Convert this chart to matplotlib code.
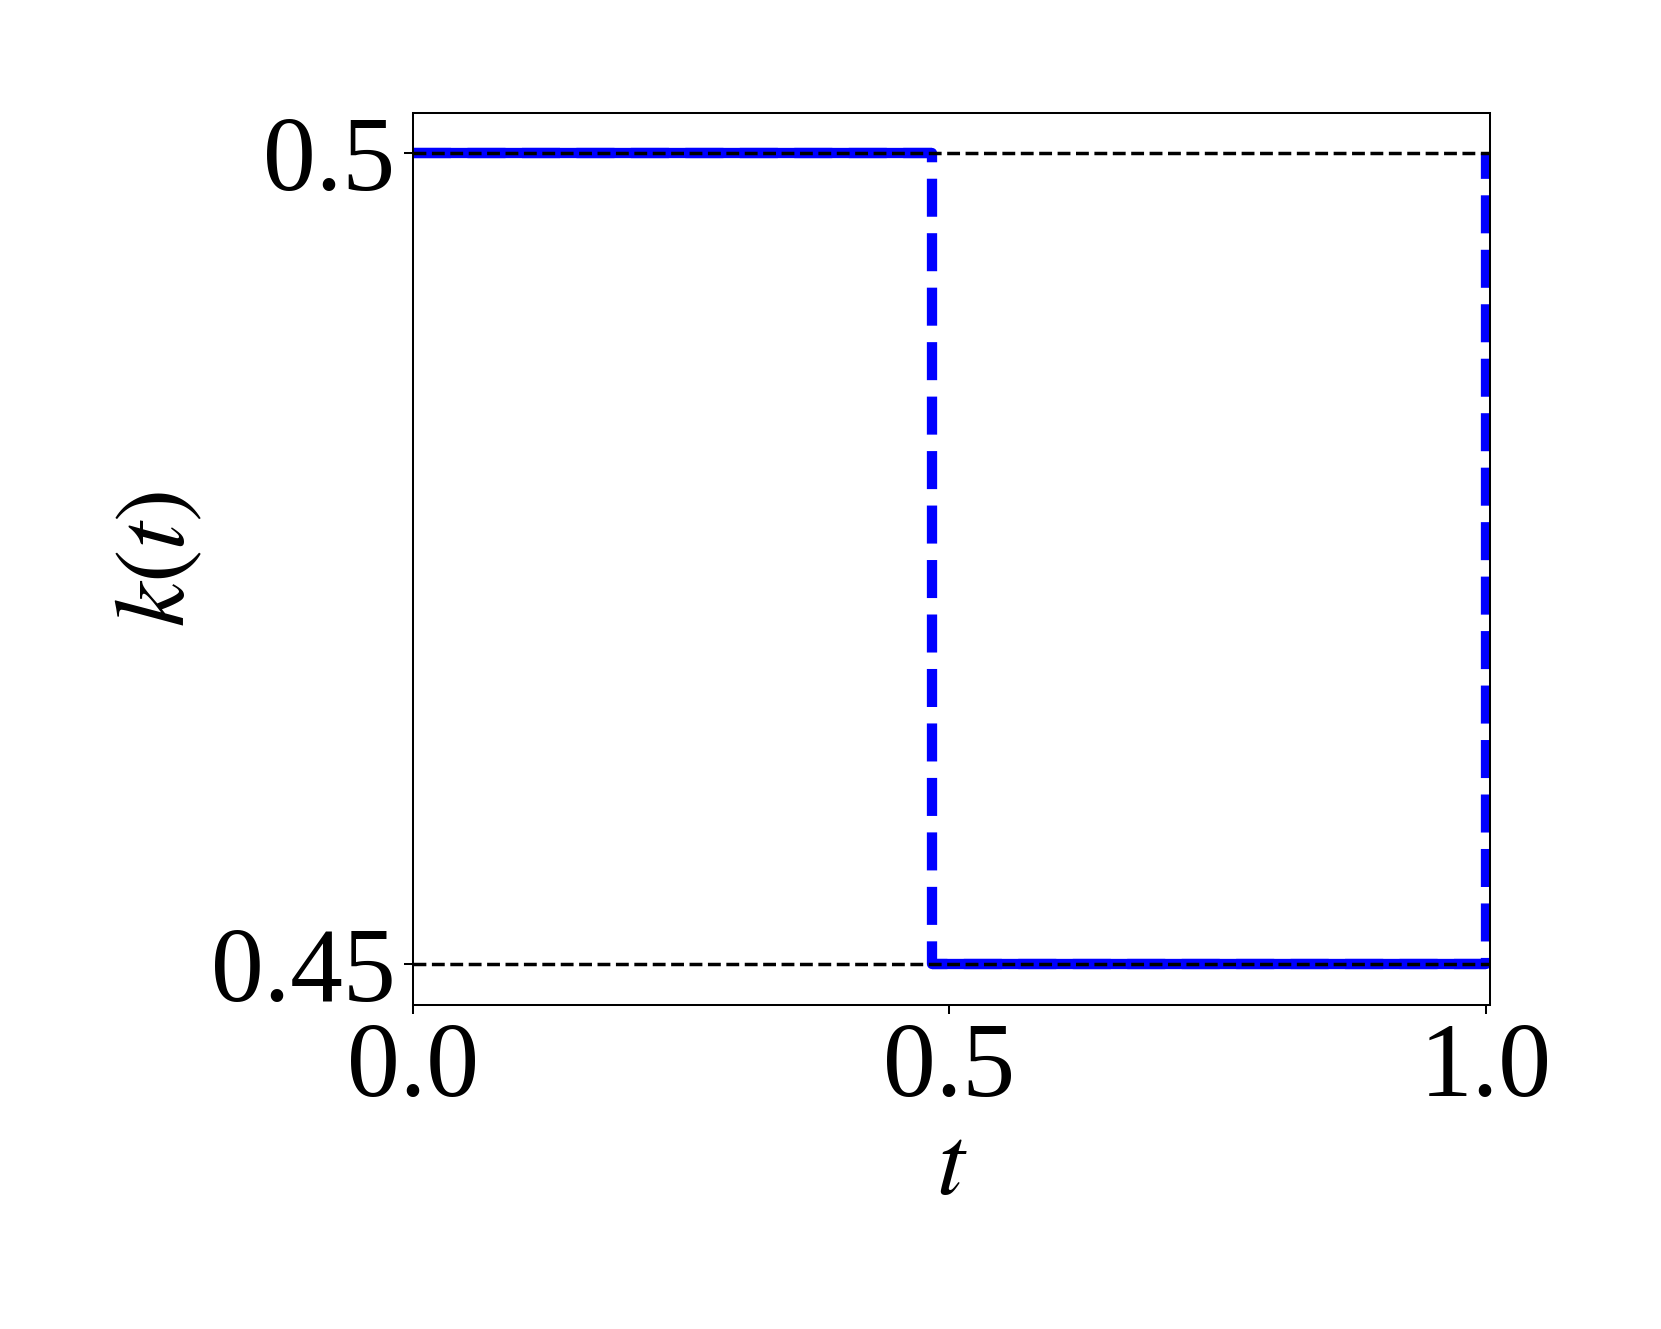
import matplotlib
matplotlib.use('Agg')
import matplotlib.pyplot as plt

# switching times and the level of k(t) that starts at each one
t_switch = [0.0, 0.484, 1.0]
k_level = [0.5, 0.45, 0.5]

# reference levels (black dashed)
k_ref = [0.5, 0.45]

x_ticks = [0.0, 0.5, 1.0]
y_ticks = [0.45, 0.5]

plt.rcParams['font.family'] = ['Liberation Serif', 'DejaVu Serif']
plt.rcParams['mathtext.fontset'] = 'stix'
plt.rcParams['font.size'] = 76

fig = plt.figure(figsize=(16.61, 13.29), dpi=100)
ax = fig.add_axes([0.2486, 0.2438, 0.6484, 0.6714])

# solid blue on the constant parts, dashed blue over the whole step path
ax.hlines(k_level[:-1], t_switch[:-1], t_switch[1:], color='blue',
          linewidth=7.4, zorder=2)
ax.plot(t_switch, k_level, drawstyle='steps-post', color='blue',
        linestyle='--', linewidth=7.4, zorder=2)
for k in k_ref:
    ax.axhline(k, color='black', linestyle='--', linewidth=2.5, zorder=3)

ax.set_xlim(0.0, 1.004)
ax.set_ylim(0.4475, 0.5025)
ax.set_xticks(x_ticks)
ax.set_xticklabels(['0.0', '0.5', '1.0'])
ax.set_yticks(y_ticks)
ax.set_yticklabels(['0.45', '0.5'])

for s in ax.spines.values():
    s.set_linewidth(1.45)
ax.tick_params(length=6.3, width=1.45, pad=6.3)

ax.set_xlabel('$t$', fontsize=72, labelpad=4)
ax.set_ylabel('$k(t)$', fontsize=72, labelpad=4)

fig.savefig('out.png', dpi=100)
